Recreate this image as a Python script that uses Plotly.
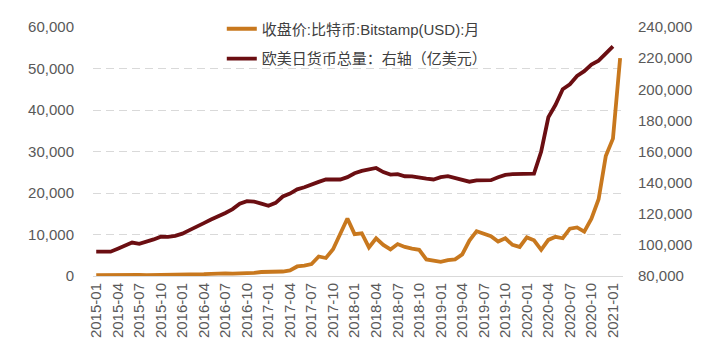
import plotly.graph_objects as go

months = [f"{y}-{m:02d}" for y in range(2015, 2022) for m in range(1, 13)][:74]

btc = [217, 254, 244, 236, 230, 263, 284, 230, 236, 314, 377, 430,
       368, 437, 416, 448, 531, 673, 624, 575, 609, 700, 742, 963,
       970, 1190, 1080, 1350, 2300, 2500, 2870, 4700, 4340, 6450, 9900, 13850,
       10100, 10300, 6900, 9100, 7500, 6400, 7700, 7000, 6600, 6300, 4000, 3700,
       3400, 3800, 4000, 5200, 8550, 10800, 10100, 9600, 8300, 9100, 7500, 7000,
       9300, 8600, 6300, 8700, 9450, 9100, 11400, 11700, 10700, 13800, 18500, 28900,
       33100, 52500]

cb = [95600, 95600, 95600, 97500, 99500, 101500, 100700, 102000, 103500, 105300, 105100, 105800,
      107200, 109500, 111500, 114000, 116300, 118200, 120500, 123000, 126500, 128100, 127800, 126500,
      125100, 127000, 131100, 133000, 135700, 137000, 139000, 140500, 142000, 142000, 142000, 143500,
      146000, 147500, 148500, 149400, 146800, 145200, 145500, 144100, 144000, 143100, 142500, 142000,
      143500, 144100, 142800, 141800, 140600, 141500, 141800, 141600, 143500, 145000, 145500, 145800,
      145800, 145800, 160000, 182000, 190000, 200000, 203200, 208500, 211600, 215900, 218400, 223300,
      227500]

tick_labels = months[0:73:3]

name_btc = "收盘价:比特币:Bitstamp(USD):月"
name_cb = "欧美日货币总量：右轴（亿美元）"

FONT = "Liberation Sans, Arial, Noto Sans CJK SC, sans-serif"

fig = go.Figure()
fig.add_trace(go.Scatter(x=months, y=btc, name=name_btc, mode="lines", showlegend=True,
                         line=dict(color="#C8781E", width=3.8), legend="legend"))
fig.add_trace(go.Scatter(x=months[:len(cb)], y=cb, name=name_cb, mode="lines", showlegend=True,
                         line=dict(color="#6B0E12", width=3.8), yaxis="y2", legend="legend2"))

fig.update_layout(
    width=706, height=350,
    showlegend=True,
    margin=dict(l=93, r=83, t=26, b=72),
    paper_bgcolor="white", plot_bgcolor="white",
    font=dict(family=FONT, color="#595959", size=15),
    xaxis=dict(type="category", categoryorder="array", categoryarray=months,
               range=[-0.45, 73.4], tickmode="array", tickvals=tick_labels, ticktext=tick_labels,
               tickangle=-90, showgrid=False, showline=True, linecolor="#D9D9D9", linewidth=1,
               ticks="", tickfont=dict(size=15, color="#595959")),
    yaxis=dict(range=[0, 60000], dtick=10000, tickformat=",", showgrid=True,
               gridcolor="#D9D9D9", griddash="8px,5px", gridwidth=1, zeroline=False,
               ticklabelstandoff=18, tickfont=dict(size=15, color="#595959")),
    yaxis2=dict(range=[80000, 240000], dtick=20000, tickformat=",", overlaying="y", side="right",
                showgrid=False, zeroline=False, ticklabelstandoff=14,
                tickfont=dict(size=15, color="#595959")),
    legend=dict(x=0.243, y=0.992, xanchor="left", yanchor="middle", bgcolor="rgba(0,0,0,0)",
                font=dict(size=15, color="#404040"), visible=True),
    legend2=dict(x=0.243, y=0.872, xanchor="left", yanchor="middle", bgcolor="rgba(0,0,0,0)",
                 font=dict(size=15, color="#404040"), visible=True),
)

fig.write_html("out.html")
